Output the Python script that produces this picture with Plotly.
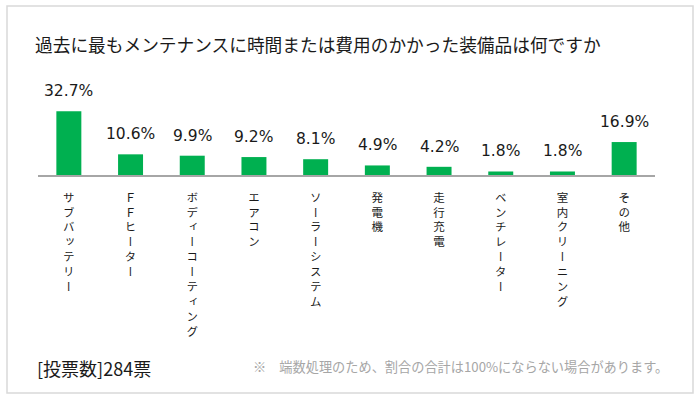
import plotly.graph_objects as go

categories = ["サブバッテリー", "ＦＦヒーター", "ボディーコーティング", "エアコン", "ソーラーシステム",
              "発電機", "走行充電", "ベンチレーター", "室内クリーニング", "その他"]
values = [32.7, 10.6, 9.9, 9.2, 8.1, 4.9, 4.2, 1.8, 1.8, 16.9]
value_labels = ["32.7%", "10.6%", "9.9%", "9.2%", "8.1%", "4.9%", "4.2%", "1.8%", "1.8%", "16.9%"]
title_text = "過去に最もメンテナンスに時間または費用のかかった装備品は何ですか"
votes_text = "[投票数]284票"
note_text = "※　端数処理のため、割合の合計は100%にならない場合があります。"

JP = "Noto Sans CJK JP"
GREEN = "#00B050"

# plot area in pixels
L, R, T, B = 38, 655, 97, 175
W, H = R - L, B - T


def px_x(p):
    return (p - L) / W


def px_y(p):
    return 1 - (p - T) / H


def vertical(label):
    # one character per line, using the font's vertical glyph forms
    return "<br>".join(
        "<span style=\"font-feature-settings:'vert' 1\">" + ch + "</span>" for ch in label)


fig = go.Figure()
fig.add_trace(go.Bar(x=categories, y=values, marker=dict(color=GREEN, line=dict(width=0)),
                     hoverinfo="skip"))

annotations = []
for c, v, t in zip(categories, values, value_labels):
    annotations.append(dict(x=c, y=v, xref="x", yref="y", text=t, showarrow=False,
                            yanchor="middle", yshift=20,
                            font=dict(family="DejaVu Sans", size=15.5, color="#1a1a1a")))

annotations.append(dict(x=px_x(35), y=px_y(368), xref="paper", yref="paper",
                        text=votes_text, showarrow=False, xanchor="left", yanchor="middle",
                        font=dict(family=JP, size=18, color="#1a1a1a")))
annotations.append(dict(x=px_x(251), y=px_y(366), xref="paper", yref="paper",
                        text=note_text, showarrow=False, xanchor="left", yanchor="middle",
                        font=dict(family=JP, size=13.2, color="#a6a6a6")))

fig.update_layout(
    width=700, height=401,
    margin=dict(l=L, r=700 - R, t=T, b=401 - B, pad=0),
    paper_bgcolor="white", plot_bgcolor="white",
    showlegend=False,
    bargap=0.595,
    title=dict(text=title_text, xref="container", yref="container",
               x=35 / 700, xanchor="left", y=1 - 46 / 401, yanchor="middle",
               font=dict(family=JP, size=17.7, color="#1a1a1a")),
    xaxis=dict(tickmode="array", tickvals=categories,
               ticktext=[vertical(c) for c in categories],
               tickfont=dict(family=JP, size=11.5, color="#1a1a1a"),
               ticks="", ticklabelstandoff=11, tickangle=0,
               showgrid=False, zeroline=False, automargin=False,
               showline=True, linecolor="#a6a6a6", linewidth=1.5,
               fixedrange=True),
    yaxis=dict(range=[0, 40], visible=False, showgrid=False, zeroline=False, fixedrange=True),
    annotations=annotations,
    shapes=[dict(type="rect", xref="paper", yref="paper",
                 x0=px_x(7), x1=px_x(693), y0=px_y(393), y1=px_y(6),
                 line=dict(color="#d9d9d9", width=1.5), fillcolor="rgba(0,0,0,0)", layer="below")],
)

fig.write_html("out.html", config={"displayModeBar": False},
               post_script="document.body.style.margin='0';")
